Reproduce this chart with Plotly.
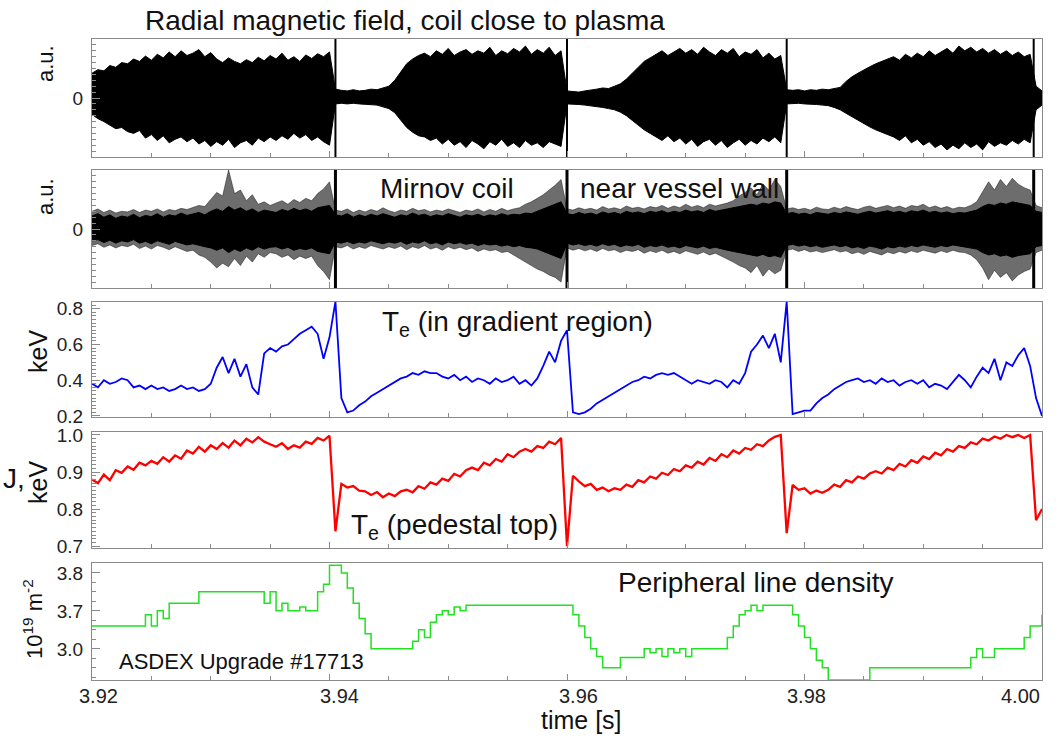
import numpy as np
import plotly.graph_objects as go

W, H = 1056, 738
# time base: 3.92 s .. 4.00 s in 0.5 ms steps
time_s = np.round(3.92 + 0.0005 * np.arange(161), 5)
crash_times = [3.9405, 3.9600, 3.9785, 3.9993]

# --- Panel 1: radial field, coil close to plasma (envelope of oscillation, a.u.)
bclose_upper = [0.42, 0.48, 0.46, 0.55, 0.52, 0.60, 0.58,
    0.66, 0.62, 0.71, 0.64, 0.74, 0.68, 0.78, 0.70, 0.80, 0.72, 0.76, 0.82, 0.70, 0.77, 0.66, 0.60, 0.68,
    0.62, 0.58, 0.65, 0.60, 0.69, 0.63, 0.72, 0.66, 0.76, 0.64, 0.70, 0.62, 0.73, 0.67, 0.75, 0.70, 0.78,
    0.15, 0.13, 0.12, 0.14, 0.12, 0.13, 0.15, 0.14, 0.17, 0.20,
    0.30, 0.45, 0.58, 0.66, 0.72,
    0.76, 0.70, 0.80, 0.74, 0.84, 0.72, 0.78, 0.82, 0.74, 0.80, 0.76, 0.86, 0.72, 0.80, 0.75, 0.84, 0.78,
    0.88, 0.74, 0.82, 0.76, 0.86, 0.72, 0.80,
    0.12, 0.11, 0.10, 0.12, 0.13, 0.15, 0.17, 0.16, 0.20, 0.24,
    0.32, 0.42, 0.52, 0.62, 0.68,
    0.74, 0.80, 0.72, 0.78, 0.84, 0.76, 0.82, 0.74, 0.86, 0.78, 0.72, 0.82, 0.76, 0.84, 0.70, 0.78, 0.74,
    0.82, 0.68, 0.76, 0.66, 0.72,
    0.14, 0.13, 0.14, 0.12, 0.14, 0.13, 0.15, 0.14, 0.16, 0.18,
    0.28, 0.36, 0.42, 0.48, 0.53, 0.58, 0.62, 0.66,
    0.70, 0.64, 0.74, 0.68, 0.76, 0.70, 0.80, 0.72, 0.78, 0.84, 0.76, 0.88, 0.80, 0.86, 0.78, 0.84, 0.76,
    0.82, 0.74, 0.80, 0.72, 0.78, 0.70, 0.74,
    0.20, 0.12]
bclose_lower = [0.28, 0.35, 0.40, 0.46, 0.52, 0.50, 0.57,
    0.60, 0.55, 0.68, 0.62, 0.72, 0.64, 0.76, 0.70, 0.66, 0.74, 0.68, 0.78, 0.72, 0.82, 0.74, 0.80, 0.70,
    0.84, 0.76, 0.72, 0.80, 0.68, 0.74, 0.66, 0.72, 0.64, 0.70, 0.60, 0.68, 0.62, 0.72, 0.66, 0.74, 0.80,
    0.10, 0.09, 0.10, 0.09, 0.10, 0.11, 0.12, 0.12, 0.15, 0.18,
    0.25, 0.38, 0.50, 0.58, 0.64,
    0.66, 0.72, 0.68, 0.78, 0.70, 0.80, 0.74, 0.84, 0.72, 0.78, 0.86, 0.74, 0.80, 0.70, 0.82, 0.76, 0.84,
    0.72, 0.80, 0.76, 0.84, 0.74, 0.78, 0.82,
    0.10, 0.10, 0.11, 0.12, 0.13, 0.14, 0.16, 0.18, 0.20, 0.24,
    0.30, 0.38, 0.46, 0.54, 0.60,
    0.66, 0.72, 0.64, 0.74, 0.68, 0.78, 0.70, 0.82, 0.74, 0.70, 0.80, 0.72, 0.84, 0.76, 0.70, 0.80, 0.72,
    0.78, 0.68, 0.74, 0.66, 0.76,
    0.10, 0.09, 0.09, 0.10, 0.10, 0.11, 0.12, 0.13, 0.16, 0.20,
    0.26, 0.32, 0.38, 0.44, 0.49, 0.54, 0.58, 0.62,
    0.66, 0.72, 0.64, 0.76, 0.70, 0.80, 0.74, 0.84, 0.78, 0.88, 0.80, 0.86, 0.76, 0.84, 0.78, 0.88, 0.74,
    0.82, 0.76, 0.80, 0.72, 0.78, 0.70, 0.76,
    0.20, 0.12]

# --- Panel 2: Mirnov coil near vessel wall (dense core and burst extremes, a.u.)
mirnov_core_upper = [0.22, 0.26, 0.20, 0.24, 0.18, 0.22, 0.20, 0.25, 0.19, 0.23, 0.21, 0.26, 0.20, 0.24,
    0.22, 0.27, 0.23, 0.25, 0.28, 0.24, 0.30,
    0.34, 0.30, 0.38, 0.32, 0.36, 0.30, 0.34, 0.28, 0.32, 0.30, 0.28, 0.33, 0.30, 0.35, 0.31, 0.34, 0.30,
    0.36, 0.38, 0.40,
    0.24, 0.22, 0.26, 0.20, 0.24, 0.21, 0.25, 0.22, 0.26, 0.23, 0.20, 0.24, 0.22, 0.27, 0.23, 0.25, 0.21,
    0.24, 0.22, 0.26, 0.23, 0.20, 0.24, 0.22, 0.25, 0.21, 0.24, 0.22, 0.26, 0.23, 0.25, 0.24, 0.27, 0.26, 0.30,
    0.34, 0.38, 0.42, 0.46,
    0.26, 0.24, 0.28, 0.25, 0.27, 0.24, 0.29, 0.26, 0.28, 0.25, 0.30, 0.27, 0.29, 0.26, 0.30, 0.28, 0.31,
    0.27, 0.30, 0.28, 0.32, 0.29, 0.31, 0.28, 0.33, 0.30, 0.32, 0.34, 0.36, 0.38, 0.40,
    0.42, 0.40, 0.44, 0.42, 0.46, 0.44,
    0.26, 0.28, 0.25, 0.27, 0.24, 0.28, 0.26, 0.25, 0.28, 0.26, 0.29, 0.27, 0.25, 0.28, 0.30, 0.27, 0.29,
    0.31, 0.28, 0.30, 0.27, 0.31, 0.29, 0.32, 0.28, 0.30, 0.27, 0.29, 0.26, 0.28, 0.27, 0.30, 0.32,
    0.38, 0.42, 0.40, 0.44, 0.42, 0.46, 0.44, 0.42, 0.40,
    0.30, 0.28]
mirnov_core_lower = [0.20, 0.18, 0.23, 0.19, 0.24, 0.20, 0.22, 0.18, 0.24, 0.21, 0.25, 0.20, 0.23, 0.26,
    0.21, 0.24, 0.27, 0.25, 0.28, 0.30, 0.32,
    0.36, 0.32, 0.40, 0.34, 0.38, 0.32, 0.36, 0.30, 0.34, 0.31, 0.30, 0.34, 0.31, 0.36, 0.33, 0.35, 0.32,
    0.38, 0.40, 0.42,
    0.22, 0.24, 0.21, 0.25, 0.22, 0.24, 0.20, 0.23, 0.25, 0.22, 0.24, 0.21, 0.26, 0.22, 0.24, 0.20, 0.25,
    0.23, 0.27, 0.22, 0.25, 0.23, 0.26, 0.24, 0.28, 0.25, 0.27, 0.26, 0.29, 0.27, 0.30, 0.28, 0.31, 0.32, 0.34,
    0.38, 0.42, 0.46, 0.50,
    0.24, 0.27, 0.25, 0.28, 0.26, 0.29, 0.25, 0.28, 0.26, 0.30, 0.27, 0.29, 0.26, 0.31, 0.28, 0.30, 0.27,
    0.31, 0.29, 0.32, 0.28, 0.30, 0.32, 0.29, 0.33, 0.31, 0.34, 0.36, 0.38, 0.40, 0.42,
    0.44, 0.46, 0.43, 0.47, 0.45, 0.48,
    0.28, 0.26, 0.29, 0.27, 0.30, 0.28, 0.31, 0.29, 0.27, 0.30, 0.28, 0.32, 0.30, 0.33, 0.29, 0.31, 0.34,
    0.30, 0.32, 0.29, 0.31, 0.28, 0.30, 0.27, 0.29, 0.31, 0.28, 0.30, 0.27, 0.29, 0.30, 0.32, 0.34,
    0.40, 0.44, 0.42, 0.46, 0.44, 0.48, 0.45, 0.43, 0.42,
    0.30, 0.28]
mirnov_burst_upper = [0.30, 0.34, 0.28, 0.32, 0.27, 0.30, 0.29, 0.33, 0.28, 0.32, 0.30, 0.34, 0.29, 0.33,
    0.31, 0.35, 0.33, 0.36, 0.40, 0.38, 0.50,
    0.62, 0.56, 1.00, 0.60, 0.66, 0.48, 0.58, 0.42, 0.46, 0.40, 0.44, 0.48, 0.42, 0.50, 0.45, 0.52, 0.48,
    0.60, 0.68, 0.80,
    0.32, 0.30, 0.34, 0.28, 0.32, 0.29, 0.33, 0.30, 0.36, 0.31, 0.28, 0.32, 0.30, 0.35, 0.31, 0.33, 0.29,
    0.32, 0.30, 0.34, 0.31, 0.28, 0.32, 0.30, 0.34, 0.29, 0.33, 0.30, 0.35, 0.31, 0.34, 0.36, 0.42, 0.46, 0.52,
    0.58, 0.66, 0.74, 0.84,
    0.34, 0.32, 0.36, 0.33, 0.35, 0.32, 0.38, 0.34, 0.36, 0.33, 0.39, 0.35, 0.37, 0.34, 0.38, 0.36, 0.40,
    0.35, 0.39, 0.36, 0.42, 0.37, 0.40, 0.36, 0.42, 0.39, 0.41, 0.44, 0.48, 0.56, 0.62,
    0.70, 0.58, 0.76, 0.66, 0.84, 0.72,
    0.34, 0.36, 0.33, 0.35, 0.32, 0.37, 0.34, 0.33, 0.37, 0.34, 0.38, 0.35, 0.33, 0.37, 0.39, 0.35, 0.38,
    0.40, 0.36, 0.39, 0.35, 0.40, 0.38, 0.42, 0.36, 0.39, 0.35, 0.38, 0.34, 0.37, 0.36, 0.40, 0.46,
    0.62, 0.80, 0.66, 0.84, 0.72, 0.86, 0.76, 0.70, 0.66,
    0.40, 0.36]
mirnov_burst_lower = [0.28, 0.25, 0.31, 0.27, 0.32, 0.28, 0.30, 0.26, 0.33, 0.29, 0.34, 0.28, 0.31, 0.35,
    0.30, 0.34, 0.38, 0.36, 0.44, 0.48, 0.56,
    0.66, 0.58, 0.64, 0.50, 0.62, 0.46, 0.56, 0.42, 0.48, 0.40, 0.42, 0.48, 0.44, 0.52, 0.46, 0.50, 0.46,
    0.62, 0.72, 0.86,
    0.30, 0.32, 0.28, 0.34, 0.30, 0.33, 0.28, 0.31, 0.34, 0.30, 0.33, 0.29, 0.35, 0.30, 0.33, 0.28, 0.34,
    0.31, 0.36, 0.30, 0.34, 0.31, 0.35, 0.32, 0.38, 0.34, 0.37, 0.35, 0.40, 0.38, 0.44, 0.50, 0.56, 0.62, 0.68,
    0.72, 0.78, 0.82, 0.90,
    0.32, 0.36, 0.33, 0.37, 0.34, 0.38, 0.33, 0.37, 0.35, 0.40, 0.36, 0.38, 0.35, 0.41, 0.37, 0.40, 0.36,
    0.41, 0.38, 0.42, 0.37, 0.40, 0.43, 0.39, 0.44, 0.41, 0.46, 0.50, 0.56, 0.62, 0.66,
    0.74, 0.62, 0.80, 0.68, 0.76, 0.70,
    0.36, 0.34, 0.38, 0.35, 0.39, 0.37, 0.40, 0.38, 0.35, 0.39, 0.37, 0.42, 0.39, 0.43, 0.38, 0.41, 0.44,
    0.39, 0.42, 0.38, 0.41, 0.37, 0.40, 0.36, 0.39, 0.41, 0.37, 0.40, 0.36, 0.39, 0.40, 0.44, 0.52,
    0.66, 0.86, 0.70, 0.82, 0.74, 0.88, 0.78, 0.72, 0.68,
    0.40, 0.36]

# --- Panel 3: Te in gradient region (keV)
te_gradient = [0.38, 0.36, 0.40, 0.38, 0.39, 0.41,
    0.40, 0.36, 0.37, 0.35, 0.37,
    0.35, 0.36, 0.34, 0.35, 0.37, 0.35, 0.36, 0.34, 0.35, 0.38,
    0.47, 0.53, 0.44, 0.52, 0.42, 0.49,
    0.36, 0.32,
    0.55, 0.58, 0.56, 0.59,
    0.60, 0.63, 0.66, 0.68,
    0.70, 0.66, 0.52,
    0.64,
    0.84, 0.30, 0.22, 0.23, 0.26,
    0.28, 0.31, 0.33, 0.35, 0.37, 0.39,
    0.41, 0.42, 0.44, 0.43, 0.45, 0.44,
    0.44, 0.42, 0.41, 0.43, 0.40, 0.42, 0.39, 0.41, 0.40, 0.38, 0.41, 0.39, 0.40, 0.42, 0.38, 0.40, 0.37, 0.41,
    0.48, 0.56, 0.50, 0.62,
    0.68,
    0.22, 0.21, 0.22, 0.24,
    0.27, 0.29, 0.31, 0.33, 0.35, 0.37,
    0.39, 0.40, 0.42, 0.41, 0.43, 0.44,
    0.43, 0.44, 0.42, 0.40, 0.38, 0.40, 0.39, 0.38, 0.40, 0.39, 0.36, 0.40, 0.38,
    0.44, 0.56, 0.60, 0.65, 0.58, 0.66, 0.50,
    0.84,
    0.21, 0.22, 0.23, 0.23, 0.27,
    0.30, 0.32, 0.35, 0.37, 0.39,
    0.40, 0.41, 0.39, 0.40, 0.38, 0.41, 0.39, 0.40, 0.37, 0.39, 0.40, 0.38, 0.40, 0.36, 0.38, 0.37, 0.35,
    0.39, 0.43, 0.40, 0.36, 0.42,
    0.47, 0.44, 0.52, 0.40, 0.50, 0.48, 0.54, 0.58, 0.48,
    0.30, 0.20]

# --- Panel 4: Te at pedestal top (keV)
te_pedestal = [0.880, 0.870, 0.893, 0.878,
    0.905, 0.898, 0.915, 0.906, 0.925, 0.918, 0.930,
    0.922, 0.940, 0.928, 0.945, 0.936,
    0.958, 0.950, 0.968, 0.955,
    0.972, 0.962, 0.978, 0.966, 0.985, 0.972,
    0.990, 0.980, 0.994, 0.982, 0.975,
    0.968, 0.978, 0.962, 0.972, 0.966,
    0.982, 0.976, 0.992, 0.985, 0.998,
    0.740,
    0.868, 0.858, 0.862, 0.850, 0.848,
    0.838, 0.846, 0.832, 0.842, 0.835, 0.848,
    0.852, 0.845, 0.862, 0.855, 0.872, 0.866, 0.882, 0.876, 0.895, 0.888, 0.905,
    0.912, 0.905, 0.925, 0.918, 0.935, 0.928, 0.948, 0.940, 0.955,
    0.962, 0.955, 0.970, 0.965, 0.982, 0.975, 0.992,
    0.700,
    0.890,
    0.875, 0.862, 0.868, 0.852, 0.858, 0.848, 0.856, 0.852,
    0.866, 0.860, 0.878, 0.872, 0.888, 0.882, 0.898, 0.892, 0.908, 0.902, 0.918, 0.912,
    0.928, 0.920, 0.938, 0.930, 0.948, 0.940, 0.958, 0.950, 0.965, 0.960, 0.975, 0.970,
    0.985, 0.995, 1.000,
    0.735,
    0.865,
    0.852, 0.856, 0.842, 0.850, 0.844, 0.852,
    0.866, 0.860, 0.878, 0.872, 0.888, 0.882, 0.896,
    0.902, 0.896, 0.912, 0.905, 0.922, 0.915, 0.932, 0.925, 0.942, 0.935, 0.952, 0.945,
    0.962, 0.955, 0.970, 0.965, 0.980, 0.975, 0.990,
    0.985, 0.996, 0.990, 1.000, 0.994, 1.000, 0.992, 1.000,
    0.770, 0.800]

# --- Panel 5: peripheral line density (10^19 m^-2)
line_density = [3.66, 3.66, 3.66, 3.66, 3.66, 3.66, 3.66, 3.66, 3.66,
    3.69, 3.66, 3.70, 3.68,
    3.72, 3.72, 3.72, 3.72, 3.72,
    3.75, 3.75, 3.75, 3.75, 3.75, 3.75, 3.75, 3.75, 3.75, 3.75, 3.75,
    3.72, 3.75,
    3.70, 3.72, 3.70, 3.70, 3.71, 3.70, 3.70,
    3.75, 3.77,
    3.82, 3.82,
    3.80, 3.76, 3.72, 3.68, 3.64,
    3.60, 3.60, 3.60, 3.60, 3.60, 3.60, 3.60,
    3.62, 3.65, 3.63, 3.67,
    3.69, 3.70, 3.69, 3.71, 3.70,
    3.715, 3.715, 3.715, 3.715, 3.715, 3.715, 3.715, 3.715, 3.715, 3.715, 3.715, 3.715, 3.715, 3.715,
    3.715, 3.715, 3.715, 3.715,
    3.69, 3.66, 3.63, 3.60, 3.58,
    3.55, 3.55, 3.55,
    3.577, 3.577, 3.577, 3.577,
    3.60, 3.59, 3.60, 3.58, 3.60, 3.59, 3.60, 3.58, 3.60, 3.60, 3.60, 3.60, 3.60, 3.60,
    3.63, 3.66, 3.69,
    3.70, 3.715, 3.70, 3.715,
    3.715, 3.715, 3.715, 3.715,
    3.69, 3.66, 3.63, 3.60, 3.57,
    3.55, 3.518, 3.518, 3.518, 3.518, 3.518, 3.518, 3.518,
    3.55, 3.55, 3.55, 3.55, 3.55, 3.55, 3.55, 3.55, 3.55, 3.55, 3.55, 3.55, 3.55, 3.55, 3.55, 3.55, 3.55,
    3.577, 3.60, 3.577, 3.577, 3.60,
    3.60, 3.60, 3.60, 3.60,
    3.63, 3.66, 3.66, 3.69]

density_tickvals = [3.6, 3.7, 3.8]
density_ticktext = ["3.0", "3.7", "3.8"]
x_tickvals = [3.92, 3.94, 3.96, 3.98, 4.00]
x_ticktext = ["3.92", "3.94", "3.96", "3.98", "4.00"]
x_label_shift = [6, 10, 11, 2, -22]   # label offsets (px) as placed in the figure

for name, arr in [("bcu", bclose_upper), ("bcl", bclose_lower), ("mcu", mirnov_core_upper),
                  ("mcl", mirnov_core_lower), ("mbu", mirnov_burst_upper), ("mbl", mirnov_burst_lower),
                  ("teg", te_gradient), ("tep", te_pedestal), ("den", line_density)]:
    assert len(arr) == 161, (name, len(arr))

FONT = "Liberation Sans, Arial, sans-serif"
FRAME = "#8a8a8a"

def px(x):
    return x / W

def py(y):
    return 1 - y / H

# panel pixel boxes (top, bottom)
boxes = [(39, 157), (170, 288), (302, 417), (432, 548), (563, 680)]
XL, XR = 92, 1042

fig = go.Figure()

def band(upper, lower, axis, fill, width):
    fig.add_trace(go.Scatter(x=time_s, y=upper, mode="lines", line=dict(color=fill, width=width),
                             xaxis="x" + axis, yaxis="y" + axis, showlegend=False, hoverinfo="skip"))
    fig.add_trace(go.Scatter(x=time_s, y=[-v for v in lower], mode="lines",
                             line=dict(color=fill, width=width), fill="tonexty", fillcolor=fill,
                             xaxis="x" + axis, yaxis="y" + axis, showlegend=False, hoverinfo="skip"))

# panel 1
band(bclose_upper, bclose_lower, "", "black", 1)
# panel 2
band(mirnov_burst_upper, mirnov_burst_lower, "2", "rgba(20,20,20,0.62)", 0.8)
band(mirnov_core_upper, mirnov_core_lower, "2", "black", 1)

# crash spikes in the magnetic signals
for ax, wdt in [("", 2), ("2", 3)]:
    xs, ys = [], []
    for t in crash_times:
        xs += [t, t, None]
        ys += [-1, 1, None]
    fig.add_trace(go.Scatter(x=xs, y=ys, mode="lines", line=dict(color="black", width=wdt),
                             xaxis="x" + ax, yaxis="y" + ax, showlegend=False, hoverinfo="skip"))

fig.add_trace(go.Scatter(x=time_s, y=te_gradient, mode="lines", line=dict(color="#0000ff", width=1.8),
                         xaxis="x3", yaxis="y3", showlegend=False))
fig.add_trace(go.Scatter(x=time_s, y=te_pedestal, mode="lines", line=dict(color="#ff0000", width=2.3),
                         xaxis="x4", yaxis="y4", showlegend=False))
fig.add_trace(go.Scatter(x=time_s, y=line_density, mode="lines", line=dict(color="#22e022", width=1.5, shape="hv"),
                         xaxis="x5", yaxis="y5", showlegend=False))

yranges = [[-1.0, 1.0], [-1.0, 1.0], [0.194, 0.838], [0.695, 1.008], [3.518, 3.826]]

layout = dict(width=W, height=H, margin=dict(l=0, r=0, t=0, b=0),
              paper_bgcolor="white", plot_bgcolor="white",
              font=dict(family=FONT, color="#222222", size=19))

for k in range(5):
    top, bot = boxes[k]
    sfx = "" if k == 0 else str(k + 1)
    xa = dict(domain=[px(XL), px(XR)], range=[3.92, 4.0], anchor="y" + sfx, automargin=False,
              showline=True, mirror=True, linecolor=FRAME, linewidth=1,
              ticks="inside", ticklen=6, tickcolor=FRAME, tickvals=x_tickvals,
              showgrid=False, zeroline=False,
              minor=dict(dtick=0.005, tick0=3.92, ticks="inside", ticklen=4, tickcolor=FRAME),
              showticklabels=False)
    if k > 0:
        xa["matches"] = "x"
    ya = dict(domain=[py(bot), py(top)], range=yranges[k], anchor="x" + sfx, automargin=False,
              showline=True, mirror=True, linecolor=FRAME, linewidth=1,
              ticks="inside", ticklen=8, tickcolor=FRAME, showgrid=False, zeroline=False,
              tickfont=dict(size=19, color="#222222"), ticklabelstandoff=4)
    if k < 2:
        ya.update(tickvals=[0], ticktext=["0"],
                  minor=dict(dtick=0.1, tick0=0, ticks="inside", ticklen=4, tickcolor=FRAME))
    elif k == 2:
        ya.update(tickvals=[0.2, 0.4, 0.6, 0.8],
                  minor=dict(dtick=0.02, tick0=0.2, ticks="inside", ticklen=4, tickcolor=FRAME))
    elif k == 3:
        ya.update(tickvals=[0.7, 0.8, 0.9, 1.0], ticktext=["0.7", "0.8", "0.9", "1.0"],
                  minor=dict(dtick=0.01, tick0=0.7, ticks="inside", ticklen=4, tickcolor=FRAME))
    else:
        ya.update(tickvals=density_tickvals, ticktext=density_ticktext,
                  minor=dict(dtick=0.025, tick0=3.5, ticks="inside", ticklen=4, tickcolor=FRAME))
    layout["xaxis" + sfx] = xa
    layout["yaxis" + sfx] = ya

ann = []
def text(x, y, s, size, angle=0, xanchor="center", color="#111111"):
    ann.append(dict(x=px(x), y=py(y), xref="paper", yref="paper", text=s, showarrow=False,
                    textangle=angle, xanchor=xanchor, yanchor="middle",
                    font=dict(family=FONT, size=size, color=color)))

# bottom time-axis labels, positioned at their tick values
for v, s, sh in zip(x_tickvals, x_ticktext, x_label_shift):
    ann.append(dict(x=v, y=py(696), xref="x5", yref="paper", text=s, showarrow=False,
                    xanchor="center", yanchor="middle", xshift=sh,
                    font=dict(family=FONT, size=20, color="#222222")))

text(405, 21, "Radial magnetic field, coil close to plasma", 28)
text(447, 188, "Mirnov coil", 28)
text(679, 188, "near vessel wall", 28)
text(517, 324, "T<sub>e</sub> (in gradient region)", 28)
text(454, 526, "T<sub>e</sub> (pedestal top)", 28)
text(756, 582, "Peripheral line density", 28)
text(241, 661, "ASDEX Upgrade #17713", 22)
text(581, 720, "time [s]", 25)
text(45, 64, "a.u.", 22, -90)
text(45, 197, "a.u.", 22, -90)
text(38, 352, "keV", 25, -90)
text(38, 483, "keV", 25, -90)
text(33, 619, "10<sup>19</sup> m<sup>-2</sup>", 22, -90)
text(1, 478, "J,", 28, xanchor="left")

layout["annotations"] = ann
fig.update_layout(**layout)
fig.write_html("out.html")
